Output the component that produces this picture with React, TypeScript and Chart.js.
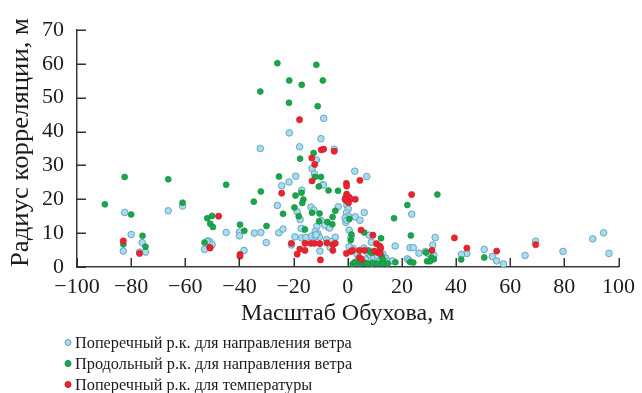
import React, { useEffect, useRef } from "react";
import { Chart, registerables } from "chart.js";

Chart.register(...registerables);

// Поперечный радиус корреляции для направления ветра
const crossWindX = [
  -82.4, -80, -82.9, -75.9, -76.9, -74.7, -66.3, -61, -51.6, -52.9, -51, -50.1, -52,
  -8.9, -21.6, -9.9, -32.3, -17.8, -5, -11.6, -13.2, -12.3, -19.2, -21.7, -9.2, -24.4, -17,
  -26, -13.6, -12.5, -18.7, -17.6, -9.8, -7.1, -11.4, -16.4, -40, -40, -44.9, -34.5, -32.1,
  -25.5, -23.9, -17.2, -12, -11, -10.5, -12.5, -13.5, -12, -19.5, -17, -15.5, -4.6, -7.8,
  -6.1, -30.1, -38.3, -10.3, -20.8, -6.5, -9, -8.5, -6.7, -11.7, -3.5,
  -0.5, -0.3, 0.2, -0.5, 0.3, -0.7, -1, -0.3, 0.5,
  2.6, 7, 2.8, 4.5, 6.1, 1.2, 7.9, 8.7, 17.5, 23, 24.2, 23.6, 32.3, 31.4, 44, 42, 50.4,
  28.7, 26.3, 29.7, 31.8, 22, 22.6, 53.4, 55, 57.5, 69.4, 65.5, 79.5, 90.5, 94.5, 96.5,
  2, 2.8, 6, 7.5, 8.5, 9.5, 10, 11, 12, 13, 14, 15, 16.5, 5, 4, 9, 11.5, 6.5, 3.5, 0.5,
];
const crossWindY = [
  16.1, 9.6, 4.7, 7.2, 4.4, 4.4, 16.6, 18, 7.7, 5.2, 7.5, 6.6, 7.5,
  43.9, 39.6, 37.9, 35.0, 35.5, 34.8, 31.6, 29.1, 27.5, 26.8, 25.1, 24.3, 24, 22.7,
  18.2, 17.7, 16.8, 16.3, 14, 13.7, 11.7, 12.0, 11.2, 10.3, 9.2, 10.2, 10, 10.2,
  10.1, 11.2, 11.4, 10.5, 9.8, 8.8, 9.3, 9.1, 9.0, 8.9, 8.6, 8.7, 8.8, 8.1,
  7.5, 7.2, 4.9, 4.7, 6.5, 5.8, 24.2, 12.3, 11.5, 9.5, 17.8,
  19.5, 18.2, 17.2, 16, 15, 13.2, 14.5, 13.8, 10.9,
  28.3, 26.7, 14.8, 13.8, 16.1, 8.7, 9.4, 7.3, 6.2, 5.7, 5.7, 15.6, 8.7, 6.5, 4, 3.7, 5.2,
  4.6, 4.1, 4.0, 3.5, 2.4, 2.0, 3.1, 1.8, 0.9, 7.6, 3.4, 4.6, 8.3, 10.1, 4,
  5.5, 1.3, 5.6, 4.2, 3.3, 2.5, 4.4, 3.2, 2.0, 3.8, 2.6, 1.6, 1.8, 1.6, 2.5, 1.2, 1.5, 2.3, 3.8, 6.0,
];

// Продольный радиус корреляции для направления ветра
const alongWindX = [
  -89.7, -82.4, -80, -75.8, -82.9, -74.7, -66.3, -61, -51.9, -52.9, -50.1, -50.8, -49.8,
  -26, -11.6, -21.6, -9.2, -17, -32.3, -21.7, -11.1, -12.6, -17.6, -12.1, -9.9, -25.4,
  -10.7, -44.9, -32.1, -7.1, -3.6, -17.1, -19.3, -34.7, -16.4, -16.8, -4.6, -19.7, -13.2,
  -23.9, -10.4, -5.6, -18.1, -10.6, -7.5, -5.7, -39.8, -30, -15.8, -38.2,
  0.6, 33.1, 22, 17.1, 1.4, 6.1, 12.3, 1.1, 23.3, 41.9, 50.4, 28.9, 30.9, 31.8, 29.3, 30.4,
  23, 24.2, 12.6, 13, 7.7, 8.7, 1.8, 2.6, 6.3, 7.5, 9.4, 11.2, 13, 14.8, 17.6, 4.5,
];
const alongWindY = [
  18.5, 26.6, 15.5, 9.2, 6.7, 6.0, 25.9, 19, 14.4, 7.2, 15.1, 12.8, 11.8,
  60.2, 59.7, 55.1, 55.1, 53.8, 51.8, 48.5, 47.5, 33.7, 32, 26.6, 26.6, 26.7,
  23.8, 24.3, 22.3, 22.6, 22.5, 21.9, 21.1, 19.3, 19.9, 18.9, 16.6, 17.6, 16,
  15.7, 15.8, 14.8, 15, 13.5, 13.3, 12.6, 12.5, 12.1, 11.1, 10.7,
  14.2, 21.4, 18.3, 14.4, 9.6, 10.2, 8.5, 7.9, 9.3, 2.2, 2.8, 4.3, 2.8, 2.3, 1.7, 1.7,
  1.5, 1.3, 3, 2.2, 4.9, 4.2, 0.9, 1.4, 1.2, 1.0, 1.2, 1.0, 1.1, 1.0, 1.4, 1.0,
];

// Поперечный радиус корреляции для температуры
const crossTempX = [
  -82.9, -76.9, -51, -47.7, -50.8, -39.8, -39.8,
  -17.8, -9.8, -8.9, -5, -13.3, -12.2, -13.2, -24.4, -0.5, -0.4, 4.5,
  -20.8, -15.8, -13.7, -12.3, -10.3, -7.7, -5.5, -4.6,
  -17.7, -15.8, -18.7, -5.5, -10.1, -0.5, -0.4,
  -0.8, 0.4, 1, -0.3, 0.3, 2.8, -1,
  23.6, 4.9, 9.3, 10.6, 11.8, 12.2, 1.2, 1.8, 4.3, 6.2, 9.8, 11, 12, 4.3, 5.1,
  31.1, 39.4, 44, 55, 69.4,
];
const crossTempY = [
  7.7, 4, 5.8, 15, 5.6, 3.7, 3.2,
  43.5, 34.6, 34.8, 34.2, 32.2, 30.3, 25.4, 21.8, 24.7, 23.9, 25.6,
  7.0, 7.0, 7.0, 7.0, 6.9, 7.1, 6.6, 7.0,
  5.3, 4.9, 3.8, 4.9, 2.1, 4.0, 21.5,
  20.5, 20.7, 20.1, 19.6, 19, 20, 20,
  21.4, 10.9, 9.4, 6.9, 6.2, 5.6, 4.6, 4.9, 4.9, 4.9, 4.7, 4.3, 4.0, 2.8, 2.2,
  4.9, 8.6, 5.6, 4.7, 6.6,
];

const seriesLabels = [
  "Поперечный р.к. для направления ветра",
  "Продольный р.к. для направления ветра",
  "Поперечный р.к. для температуры",
];

const xTicks = [-100, -80, -60, -40, -20, 0, 20, 40, 60, 80, 100];
const yTicks = [0, 10, 20, 30, 40, 50, 60, 70];
const yTitle = "Радиус корреляции, м";

const SERIF = "'Liberation Serif', 'Times New Roman', serif";
const INK = "#1c1c1c";

const pairs = (xs: number[], ys: number[]) => xs.map((x, i) => ({ x, y: ys[i] }));
const minus = (v: number) => (v < 0 ? "\u2212" + Math.abs(v) : String(v));

// Tick marks pointing into the plot area
const inwardTicks = {
  id: "inwardTicks",
  afterDraw(chart: any) {
    const { ctx, chartArea, scales } = chart;
    ctx.save();
    ctx.strokeStyle = "#333";
    ctx.lineWidth = 1.5;
    ctx.beginPath();
    for (const v of xTicks) {
      const px = Math.round(scales.x.getPixelForValue(v)) + 0.25;
      ctx.moveTo(px, chartArea.bottom);
      ctx.lineTo(px, chartArea.bottom - 9);
    }
    for (const v of yTicks) {
      const py = Math.round(scales.y.getPixelForValue(v)) + 0.25;
      ctx.moveTo(chartArea.left, py);
      ctx.lineTo(chartArea.left + 9, py);
    }
    ctx.stroke();
    ctx.restore();
  },
};

// Rotated y-axis title, stretched along the full height of the axis
const sideTitle = {
  id: "sideTitle",
  afterDraw(chart: any) {
    const { ctx } = chart;
    ctx.save();
    ctx.font = `25px ${SERIF}`;
    ctx.fillStyle = INK;
    ctx.textAlign = "center";
    ctx.textBaseline = "middle";
    const w = ctx.measureText(yTitle).width;
    ctx.translate(21.5, 142.5);
    ctx.rotate(-Math.PI / 2);
    ctx.scale(249 / w, 1);
    ctx.fillText(yTitle, 0, 0);
    ctx.restore();
  },
};

// Vertical legend under the axis title
const stackedLegend = {
  id: "stackedLegend",
  afterDraw(chart: any) {
    const { ctx } = chart;
    ctx.save();
    ctx.font = `16.3px ${SERIF}`;
    ctx.textBaseline = "middle";
    ctx.fillStyle = INK;
    chart.data.datasets.forEach((ds: any, i: number) => {
      const y = 342.5 + i * 21;
      ctx.beginPath();
      ctx.arc(68, y, 3, 0, Math.PI * 2);
      ctx.fillStyle = ds.backgroundColor;
      ctx.fill();
      ctx.lineWidth = 1;
      ctx.strokeStyle = ds.borderColor;
      ctx.stroke();
      ctx.fillStyle = INK;
      ctx.fillText(ds.label, 75, y + 1);
    });
    ctx.restore();
  },
};

export default function App() {
  const canvasRef = useRef<HTMLCanvasElement | null>(null);

  useEffect(() => {
    const canvas = canvasRef.current;
    if (!canvas) return;
    const chart = new Chart(canvas, {
      type: "scatter",
      data: {
        datasets: [
          {
            label: seriesLabels[0],
            data: pairs(crossWindX, crossWindY),
            backgroundColor: "rgb(168,220,238)",
            borderColor: "rgb(92,160,186)",
            borderWidth: 0.9,
            pointRadius: 3.3,
            order: 3,
          },
          {
            label: seriesLabels[1],
            data: pairs(alongWindX, alongWindY),
            backgroundColor: "rgb(26,166,74)",
            borderColor: "rgb(20,140,62)",
            borderWidth: 0.6,
            pointRadius: 3,
            order: 2,
          },
          {
            label: seriesLabels[2],
            data: pairs(crossTempX, crossTempY),
            backgroundColor: "rgb(232,36,46)",
            borderColor: "rgb(205,28,38)",
            borderWidth: 0.6,
            pointRadius: 3.1,
            order: 1,
          },
        ],
      },
      options: {
        responsive: false,
        animation: false,
        devicePixelRatio: 1,
        layout: { padding: { top: 30, right: 19, left: 0, bottom: 0 } },
        plugins: { legend: { display: false }, tooltip: { enabled: false } },
        scales: {
          x: {
            type: "linear",
            min: -100,
            max: 100,
            afterBuildTicks: (s: any) => {
              s.ticks = xTicks.map((value) => ({ value }));
            },
            afterFit: (s: any) => {
              s.height = 126;
            },
            grid: { display: false, drawTicks: false },
            border: { display: true, color: "#3a3a3a", width: 1.5 },
            ticks: {
              padding: 7,
              maxRotation: 0,
              autoSkip: false,
              color: INK,
              font: { family: SERIF, size: 22 },
              callback: (v: any) => minus(Number(v)),
            },
            title: {
              display: true,
              text: "Масштаб Обухова, м",
              color: INK,
              font: { family: SERIF, size: 24 },
              padding: { top: 0, bottom: 65 },
            },
          },
          y: {
            type: "linear",
            min: 0,
            max: 70,
            afterBuildTicks: (s: any) => {
              s.ticks = yTicks.map((value) => ({ value }));
            },
            afterFit: (s: any) => {
              s.width = 77;
            },
            grid: { display: false, drawTicks: false },
            border: { display: true, color: "#3a3a3a", width: 1.5 },
            ticks: {
              padding: 13,
              autoSkip: false,
              color: INK,
              font: { family: SERIF, size: 22 },
            },
            title: { display: false },
          },
        },
      },
      plugins: [inwardTicks, sideTitle, stackedLegend],
    });
    return () => chart.destroy();
  }, []);

  return (
    <div style={{ position: "fixed", left: 0, top: 0, width: 642, height: 393, background: "#fff" }}>
      <canvas ref={canvasRef} width={642} height={393} style={{ display: "block" }} />
    </div>
  );
}
